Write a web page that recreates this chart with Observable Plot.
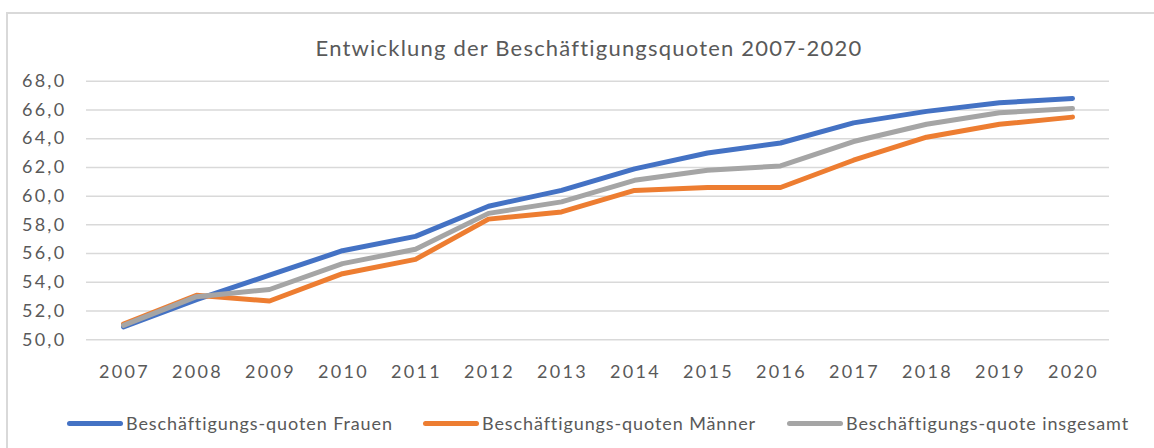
<!DOCTYPE html>
<html><head><meta charset="utf-8">
<script src="https://cdn.jsdelivr.net/npm/d3@7"></script>
<script src="https://cdn.jsdelivr.net/npm/@observablehq/plot@0.6"></script>
<style>
body{margin:0;background:#fff;font-family:Lato,"Open Sans",sans-serif;}
#wrap{position:relative;width:1154px;height:448px;overflow:hidden;}
#frame{position:absolute;left:6px;top:12px;width:1200px;height:500px;border:2px solid #d9d9d9;box-sizing:border-box;}
#title{position:absolute;top:34px;left:0;width:1154px;text-align:center;font-size:22px;letter-spacing:1.2px;color:#595959;padding-left:24px;box-sizing:border-box;}
#chart{position:absolute;left:0;top:0;}
#chart svg text{letter-spacing:2.3px;}
.item{position:absolute;top:411px;height:24px;display:flex;align-items:center;font-size:18px;letter-spacing:0.9px;color:#595959;white-space:nowrap;}
.sw{width:56px;height:5px;border-radius:3px;margin-right:3px;}
</style></head>
<body>
<div id="wrap"><div id="frame"></div><div id="title">Entwicklung der Beschäftigungsquoten 2007-2020</div><div id="chart"></div></div>
<script>
const years = ["2007","2008","2009","2010","2011","2012","2013","2014","2015","2016","2017","2018","2019","2020"];
const frauen = [50.9,52.8,54.5,56.2,57.2,59.3,60.4,61.9,63.0,63.7,65.1,65.9,66.5,66.8];
const maenner = [51.1,53.1,52.7,54.6,55.6,58.4,58.9,60.4,60.6,60.6,62.5,64.1,65.0,65.5];
const gesamt = [51.0,53.0,53.5,55.3,56.3,58.8,59.6,61.1,61.8,62.1,63.8,65.0,65.8,66.1];
const seriesNames = ["Beschäftigungs-quoten Frauen","Beschäftigungs-quoten Männer","Beschäftigungs-quote insgesamt"];
const colors = ["#4472C4","#ED7D31","#A5A5A5"];
const yTicks = [50,52,54,56,58,60,62,64,66,68];
const legendLeft = [67, 423, 787];

const allSeries = [frauen, maenner, gesamt];
const data = allSeries.flatMap((vals, i) => years.map((y, j) => ({year: y, value: vals[j], series: seriesNames[i]})));

const fmt = v => d3.format(".1f")(v).replace(".", ",");

const plot = Plot.plot({
  width: 1154, height: 390,
  marginLeft: 86, marginRight: 45, marginTop: 80.7, marginBottom: 50.7,
  style: {fontFamily: "Lato, 'Open Sans', sans-serif", fontSize: "18px", color: "#595959", background: "transparent"},
  x: {type: "point", domain: years, padding: 0.5, label: null},
  y: {domain: [50, 68], ticks: yTicks, label: null, tickFormat: fmt},
  color: {domain: seriesNames, range: colors},
  marks: [
    Plot.ruleY(yTicks, {stroke: "#d9d9d9", strokeWidth: 1.5}),
    Plot.axisY({ticks: yTicks, tickSize: 0, tickPadding: 20, tickFormat: fmt, label: null, fill: "#595959", fontSize: 18}),
    Plot.axisX({tickSize: 0, tickPadding: 25, label: null, fill: "#595959", fontSize: 18, dx: 1}),
    Plot.line(data, {x: "year", y: "value", z: "series", stroke: "series", strokeWidth: 5, strokeLinecap: "round", strokeLinejoin: "round"})
  ]
});
document.getElementById("chart").appendChild(plot);

const wrap = document.getElementById("wrap");
seriesNames.forEach((n, i) => {
  const it = document.createElement("div"); it.className = "item"; it.style.left = legendLeft[i] + "px";
  const sw = document.createElement("div"); sw.className = "sw"; sw.style.background = colors[i];
  const t = document.createElement("span"); t.textContent = n;
  it.appendChild(sw); it.appendChild(t); wrap.appendChild(it);
});
</script>
</body></html>
